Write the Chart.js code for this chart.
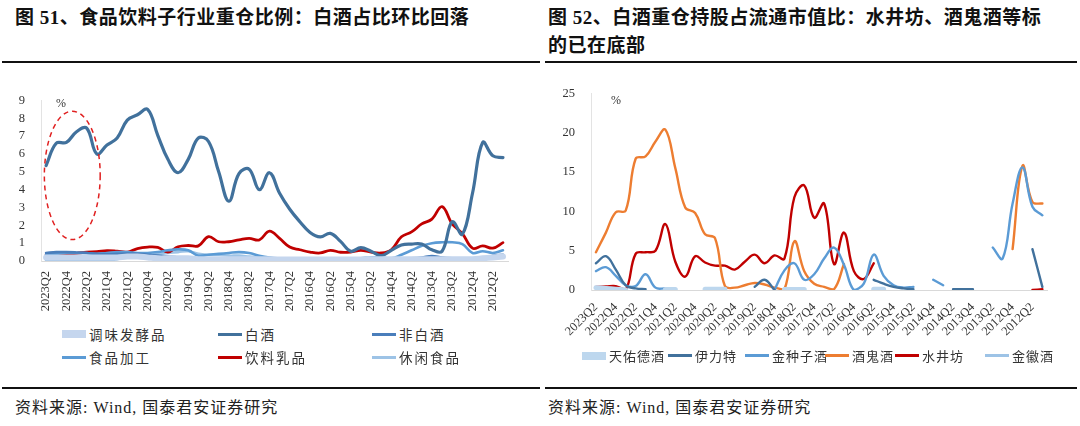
<!DOCTYPE html>
<html>
<head>
<meta charset="utf-8">
<script src="https://cdn.jsdelivr.net/npm/chart.js@4.4.0/dist/chart.umd.min.js"></script>
<style>
  body { margin: 0; width: 1080px; height: 426px; background: #fff; position: relative; overflow: hidden;
         font-family: "Liberation Serif", "Noto Sans CJK SC", serif; color: #222; }
  .title { position: absolute; font-weight: bold; font-size: 19px; line-height: 28px; letter-spacing: 0.5px;
           font-family: "Liberation Serif", "Noto Sans CJK SC", serif; color: #111; }
  .rule { position: absolute; height: 2px; background: #111; }
  .src { position: absolute; top: 394px; font-size: 16px; letter-spacing: 1px; color: #222; }
  .pct { position: absolute; font-size: 12px; color: #333; }
  canvas { position: absolute; }
  .leg { position: absolute; font-size: 13.5px; color: #333; display: flex; align-items: center;
         font-family: "Noto Sans CJK SC", sans-serif; letter-spacing: 2px; }
  .legR { font-size: 13px; letter-spacing: 1px; }
  .sw { display: inline-block; width: 24px; margin-right: 3px; }
</style>
</head>
<body>
<div class="title" style="left:15px; top:4px;">图 51、食品饮料子行业重仓比例：白酒占比环比回落</div>
<div class="title" style="left:548px; top:4px;">图 52、白酒重仓持股占流通市值比：水井坊、酒鬼酒等标<br>的已在底部</div>
<div class="rule" style="left:2px; width:538px; top:61px;"></div>
<div class="rule" style="left:545px; width:532px; top:61px;"></div>
<div class="rule" style="left:2px; width:538px; top:387px;"></div>
<div class="rule" style="left:545px; width:532px; top:387px;"></div>
<div class="src" style="left:15px;">资料来源: Wind, 国泰君安证券研究</div>
<div class="src" style="left:548px;">资料来源: Wind, 国泰君安证券研究</div>

<canvas id="left" width="515" height="232" style="left:5px; top:85px;"></canvas>
<canvas id="right" width="510" height="272" style="left:545px; top:78px;"></canvas>
<div class="pct" style="left:56px; top:96px;">%</div>
<div class="pct" style="left:611px; top:93px;">%</div>
<div id="legLeft"></div>
<div id="legRight"></div>

<script>
// quarters, newest first
const quarters = ['2023Q2','2023Q1','2022Q4','2022Q3','2022Q2','2022Q1','2021Q4','2021Q3','2021Q2','2021Q1',
  '2020Q4','2020Q3','2020Q2','2020Q1','2019Q4','2019Q3','2019Q2','2019Q1','2018Q4','2018Q3',
  '2018Q2','2018Q1','2017Q4','2017Q3','2017Q2','2017Q1','2016Q4','2016Q3','2016Q2','2016Q1',
  '2015Q4','2015Q3','2015Q2','2015Q1','2014Q4','2014Q3','2014Q2','2014Q1','2013Q4','2013Q3',
  '2013Q2','2013Q1','2012Q4','2012Q3','2012Q2','2012Q1'];

// 图51 食品饮料子行业重仓比例 (%)
const leftNames = ['调味发酵品', '白酒', '非白酒', '食品加工', '饮料乳品', '休闲食品'];
const seasoning = [0.2,0.2,0.2,0.2,0.2,0.2,0.2,0.2,0.25,0.25,0.2,0.15,0.15,0.15,0.15,0.1,0.1,0.1,0.1,0.1,
  0.1,0.1,0.1,0.08,0.08,0.08,0.08,0.08,0.08,0.08,0.08,0.08,0.1,0.1,0.1,0.1,0.1,0.1,0.1,0.1,
  0.1,0.1,0.1,0.15,0.2,0.25];
const baijiu = [5.35,6.6,6.65,7.25,7.45,6.0,6.5,6.9,7.9,8.2,8.5,7.05,5.7,4.95,5.7,6.9,6.7,5.0,3.35,4.9,
  5.15,4.0,4.95,3.8,2.9,2.2,1.6,1.35,1.55,1.1,0.55,0.75,0.55,0.3,0.6,0.9,0.95,0.95,0.63,0.55,
  2.2,1.5,3.8,6.65,5.9,5.8];
const nonBaijiu = [0.45,0.5,0.5,0.48,0.45,0.4,0.38,0.4,0.42,0.4,0.35,0.3,0.25,0.2,0.18,0.15,0.15,0.15,0.12,0.12,
  0.1,0.1,0.08,0.08,0.07,0.07,0.07,0.07,0.07,0.07,0.07,0.08,0.1,0.1,0.1,0.12,0.15,0.2,0.28,0.2,
  0.15,0.12,0.12,0.12,0.3,0.35];
const foodProc = [0.35,0.4,0.45,0.45,0.45,0.4,0.45,0.5,0.5,0.45,0.45,0.5,0.6,0.65,0.6,0.3,0.35,0.4,0.45,0.5,
  0.45,0.3,0.2,0.15,0.12,0.12,0.12,0.12,0.12,0.12,0.12,0.15,0.2,0.2,0.15,0.35,0.6,0.85,1.0,1.05,
  1.05,0.95,0.45,0.55,0.45,0.6];
const beverage = [0.33,0.33,0.38,0.43,0.5,0.52,0.58,0.55,0.5,0.7,0.78,0.76,0.5,0.8,0.87,0.85,1.36,1.08,1.08,1.18,
  1.27,1.18,1.68,1.27,0.78,0.63,0.5,0.45,0.6,0.49,0.5,0.6,0.5,0.45,0.63,1.36,1.63,2.08,2.35,3.05,
  2.08,1.54,0.72,0.85,0.72,1.03];
const snacks = [0.05,0.05,0.05,0.05,0.05,0.05,0.05,0.1,0.3,0.4,0.4,0.4,0.45,0.5,0.55,0.4,0.35,0.35,0.3,0.3,
  0.25,0.2,0.15,0.12,0.1,0.1,0.1,0.1,0.1,0.1,0.1,0.1,0.1,0.1,0.08,0.08,0.08,0.08,0.08,0.08,
  0.08,0.08,0.08,0.1,0.15,0.2];
const leftTicks = [0, 1, 2, 3, 4, 5, 6, 7, 8, 9];

// 图52 白酒重仓持股占流通市值比 (%)
const rightNames = ['天佑德酒', '伊力特', '金种子酒', '酒鬼酒', '水井坊', '金徽酒'];
const tianyoude = [0.3,0.2,0.1,0.0,null,null,null,0.05,0.05,null,null,0.1,0.1,0.1,null,null,null,null,null,0.05,
  0.05,0.05,null,null,null,null,null,null,0.1,0.1,null,null,null,null,null,null,null,null,null,null,
  null,null,null,null,null,null];
const yilite = [3.4,4.3,2.6,0.6,0.2,0.1,null,null,null,null,null,null,null,null,null,null,0.4,1.3,0.0,null,
  null,null,null,null,null,null,null,null,1.3,0.8,0.4,0.2,0.1,null,null,null,0.1,0.1,0.1,null,
  null,null,null,null,5.2,0.4];
const jinzhongzi = [2.4,2.9,1.8,0.6,0.5,2.0,0.3,0.2,null,null,null,null,null,null,null,null,null,null,0.0,2.5,
  3.4,1.3,2.0,4.0,5.4,3.2,0.0,0.8,4.5,1.8,0.6,0.3,0.4,null,1.3,0.6,null,null,null,null,
  5.4,4.0,11.0,15.6,10.6,9.5];
const jiuguijiu = [4.8,7.3,9.9,10.1,16.7,17.0,18.9,20.4,15.5,10.5,9.8,7.1,6.6,0.5,0.3,0.6,0.9,0.7,0.3,0.1,
  6.2,2.4,0.8,0.4,0.1,3.3,null,null,null,null,null,null,null,null,null,null,null,null,null,null,
  null,null,5.2,15.8,11.2,11.0];
const shuijingfang = [0.4,0.45,0.5,0.0,4.6,4.8,5.0,8.4,3.6,1.7,4.3,3.5,3.1,3.1,2.6,3.6,4.5,3.4,4.4,4.0,
  11.8,13.3,9.2,11.0,3.3,7.3,2.4,1.4,3.4,null,null,null,null,null,null,null,null,null,null,null,
  null,null,null,null,0.0,0.1];
const jinhui = [0.2,0.1,0.0,null,null,null,null,null,null,null,null,null,null,null,null,null,null,null,null,null,
  null,null,null,null,null,null,null,null,null,null,null,null,null,null,null,null,null,null,null,null,
  null,null,null,null,null,null];
const rightTicks = [0, 5, 10, 15, 20, 25];

const leftColors = ['#C5D6EE', '#41719C', '#4A7EBB', '#5B9BD5', '#C00000', '#9DC3E6'];
const leftWidths = [6, 3.2, 2.6, 2.6, 2.8, 2.6];
const rightColors = ['#BDD7EE', '#41719C', '#5B9BD5', '#ED7D31', '#C00000', '#9DC3E6'];
const rightWidths = [5, 2.4, 2.4, 2.4, 2.4, 2.4];

const tickFont = { family: 'Liberation Serif', size: 12.5 };

function makeSets(names, series, colors, widths) {
  return names.map((n, k) => ({
    label: n,
    data: series[k],
    borderColor: colors[k],
    backgroundColor: colors[k],
    borderWidth: widths[k],
    pointRadius: 0,
    tension: 0.4,
    spanGaps: false,
    fill: false,
    borderCapStyle: 'round',
    borderJoinStyle: 'round'
  }));
}

// dashed ellipse around the recent 白酒 points
const ellipsePlugin = {
  id: 'ellipse',
  afterDatasetsDraw(chart) {
    const { ctx, scales } = chart;
    const step = scales.x.getPixelForValue(1) - scales.x.getPixelForValue(0);
    const x0 = scales.x.getPixelForValue(0) - 0.17 * step;
    const x1 = scales.x.getPixelForValue(0) + 5.33 * step;
    const y0 = scales.y.getPixelForValue(8.4);
    const y1 = scales.y.getPixelForValue(1.2);
    ctx.save();
    ctx.strokeStyle = '#E02020';
    ctx.lineWidth = 1.5;
    ctx.setLineDash([5, 4]);
    ctx.beginPath();
    ctx.ellipse((x0 + x1) / 2, (y0 + y1) / 2, (x1 - x0) / 2, (y1 - y0) / 2, 0, 0, Math.PI * 2);
    ctx.stroke();
    ctx.restore();
  }
};

function makeChart(id, sets, yTicks, yWidth, xHeight, rot, padTop, plugins) {
  return new Chart(document.getElementById(id), {
    type: 'line',
    data: { labels: quarters, datasets: sets },
    plugins: plugins,
    options: {
      responsive: false,
      animation: false,
      layout: { padding: { top: padTop, right: 3, left: 0, bottom: 0 } },
      plugins: { legend: { display: false }, tooltip: { enabled: false } },
      scales: {
        x: {
          offset: true,
          grid: { display: false },
          border: { display: true, color: '#d9d9d9' },
          afterFit: s => { s.height = xHeight; },
          ticks: {
            autoSkip: false, maxRotation: rot, minRotation: rot, color: '#333', font: tickFont, padding: 2,
            callback: (v, i) => (i % 2 === 0 ? quarters[i] : '')
          }
        },
        y: {
          min: yTicks[0], max: yTicks[yTicks.length - 1],
          grid: { display: false },
          border: { display: true, color: '#e3e3e3' },
          afterFit: s => { s.width = yWidth; },
          afterBuildTicks: s => { s.ticks = yTicks.map(v => ({ value: v })); },
          ticks: { autoSkip: false, color: '#333', font: tickFont, padding: 8 }
        }
      }
    }
  });
}

makeChart('left',
  makeSets(leftNames, [seasoning, baijiu, nonBaijiu, foodProc, beverage, snacks], leftColors, leftWidths),
  leftTicks, 36, 56, 90, 5, [ellipsePlugin]);
makeChart('right',
  makeSets(rightNames, [tianyoude, yilite, jinzhongzi, jiuguijiu, shuijingfang, jinhui], rightColors, rightWidths),
  rightTicks, 46, 60, 45, 7, []);

// HTML legends
function legendItem(parent, name, color, band, left, top, extra) {
  const d = document.createElement('div');
  d.className = 'leg' + (extra ? ' ' + extra : '');
  d.style.left = left + 'px';
  d.style.top = top + 'px';
  const sw = document.createElement('span');
  sw.className = 'sw';
  sw.style.height = band ? '8px' : '3px';
  sw.style.background = color;
  d.appendChild(sw);
  d.appendChild(document.createTextNode(name));
  parent.appendChild(d);
}
const legL = document.getElementById('legLeft');
const leftCols = [62, 218, 372];
leftNames.forEach((n, k) => legendItem(legL, n, leftColors[k], k === 0, leftCols[k % 3], k < 3 ? 324 : 347));
const legR = document.getElementById('legRight');
const rightCols = [582, 668, 745, 825, 895, 985];
rightNames.forEach((n, k) => legendItem(legR, n, rightColors[k], k === 0, rightCols[k], 346, 'legR'));
</script>
</body>
</html>
